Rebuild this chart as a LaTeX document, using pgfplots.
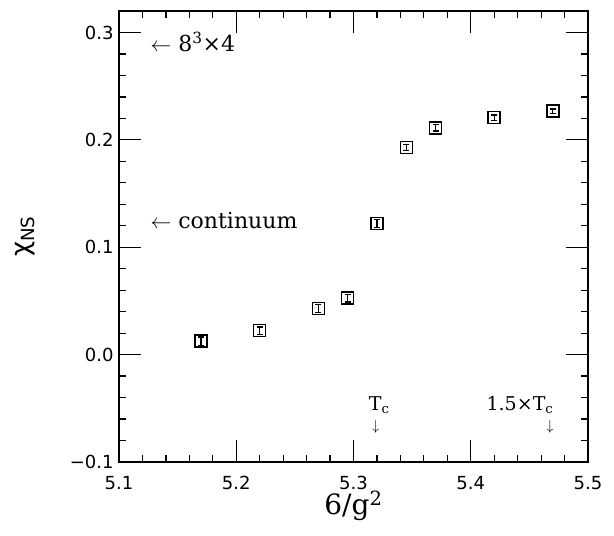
\documentclass[border=0pt]{standalone}
\usepackage{fontspec}
\setmainfont{DejaVu Serif}
\newfontfamily\ticksf{DejaVu Sans}
\usepackage{pgfplots}
\pgfplotsset{compat=1.18}

\begin{document}
\begin{tikzpicture}
	\begin{axis}[
		scale only axis,
		width=469pt, height=451pt,
		xmin=5.1, xmax=5.5,
		ymin=-0.1, ymax=0.32,
		xtick={5.1,5.2,5.3,5.4,5.5},
		xticklabels={5.1,5.2,5.3,5.4,5.5},
		ytick={-0.1,0,0.1,0.2,0.3},
		yticklabels={−0.1,0.0,0.1,0.2,0.3},
		minor tick num=4,
		tick align=inside,
		major tick length=22pt,
		minor tick length=7pt,
		axis line style={line width=1.4pt},
		every tick/.style={black, line width=1.2pt},
		tick label style={font=\ticksf\fontsize{18}{20}\selectfont},
		xticklabel style={yshift=-11pt},
		yticklabel style={xshift=-2pt},
		xlabel={6/g\textsuperscript{2}},
		xlabel style={font=\fontsize{28}{30}\selectfont, at={(axis description cs:0.5,0)}, anchor=north, inner sep=0pt, yshift=-29pt},
		ylabel={χ\textsubscript{NS}},
		ylabel style={font=\ticksf\fontsize{26}{28}\selectfont, at={(axis description cs:0,0.5)}, anchor=center, yshift=94pt},
		clip=false,
		]

		% chi_NS data
		\addplot[only marks, mark=square, mark size=6pt,
			mark options={line width=1.5pt},
			error bars/.cd, y dir=both, y explicit,
			error bar style={line width=1.2pt},
			error mark options={rotate=90, mark size=3pt, line width=1.2pt}]
		coordinates {
			(5.17,0.0125) +- (0,0.004)
			(5.22,0.0223) +- (0,0.0035)
			(5.27,0.0430) +- (0,0.0035)
			(5.295,0.0525) +- (0,0.0035)
			(5.32,0.1222) +- (0,0.0035)
			(5.345,0.1930) +- (0,0.003)
			(5.37,0.2112) +- (0,0.003)
			(5.42,0.2206) +- (0,0.0025)
			(5.47,0.2268) +- (0,0.002)
		};

		\node[anchor=west, font=\fontsize{22}{24}\selectfont] at (axis cs:5.124,0.291) {$\leftarrow$ 8\textsuperscript{3}×4};
		\node[anchor=west, font=\fontsize{22}{24}\selectfont] at (axis cs:5.124,0.125) {$\leftarrow$ continuum};
		\node[font=\fontsize{19}{22}\selectfont] at (axis cs:5.322,-0.0470) {T\textsubscript{c}};
		\node[font=\fontsize{14}{16}\selectfont] at (axis cs:5.319,-0.0670) {$\downarrow$};
		\node[font=\fontsize{19}{22}\selectfont] at (axis cs:5.442,-0.0470) {1.5×T\textsubscript{c}};
		\node[font=\fontsize{14}{16}\selectfont] at (axis cs:5.4676,-0.0670) {$\downarrow$};
	\end{axis}
	\pgfresetboundingbox
	\path ([shift={(-119pt,-73pt)}]current axis.south west) rectangle ([shift={(26pt,11pt)}]current axis.north east);
\end{tikzpicture}
\end{document}
